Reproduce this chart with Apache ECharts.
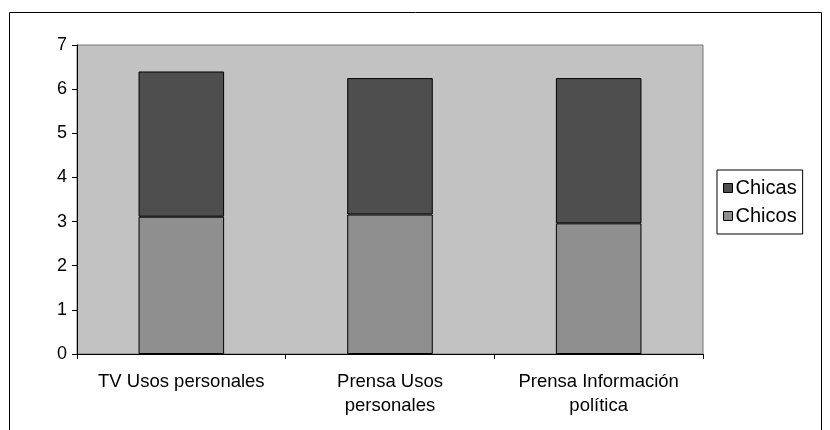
<!DOCTYPE html>
<html>
<head>
<meta charset="utf-8">
<script src="https://cdn.jsdelivr.net/npm/echarts@6/dist/echarts.min.js"></script>
<style>
  html, body { margin: 0; padding: 0; background: #fff; }
  #chart { width: 830px; height: 430px; }
</style>
</head>
<body>
<div id="chart"></div>
<script>
var categories = ['TV Usos personales', 'Prensa Usos\npersonales', 'Prensa Información\npolítica']
var chicos = [3.11, 3.16, 2.96]
var chicas = [3.29, 3.09, 3.29]
var yTicks = [0, 1, 2, 3, 4, 5, 6, 7]

var chart = echarts.init(document.getElementById('chart'))
var font = 'Liberation Sans, Arial, sans-serif'

var option = {
  animation: false,
  backgroundColor: '#fff',
  graphic: [{
    type: 'rect',
    shape: { x: 9.5, y: 12.5, width: 812, height: 430 },
    style: { fill: 'none', stroke: '#000', lineWidth: 1 },
    silent: true
  }],
  grid: {
    left: 77,
    right: 127,
    top: 45,
    bottom: 76,
    show: true,
    backgroundColor: '#c2c2c2',
    borderColor: '#777',
    borderWidth: 1
  },
  legend: {
    orient: 'vertical',
    left: 717,
    top: 170,
    data: ['Chicas', 'Chicos'],
    icon: 'rect',
    itemWidth: 9,
    itemHeight: 9,
    itemGap: 8,
    padding: [8, 6, 8, 6],
    borderColor: '#000',
    borderWidth: 1,
    borderRadius: 0,
    backgroundColor: '#fff',
    itemStyle: { borderColor: '#000', borderWidth: 1 },
    textStyle: { fontFamily: font, fontSize: 20, color: '#000', padding: [0, 0, 0, -2] }
  },
  xAxis: {
    type: 'category',
    data: categories,
    axisLine: { lineStyle: { color: '#000' } },
    axisTick: { show: true, length: 5, lineStyle: { color: '#000' } },
    axisLabel: { fontFamily: font, fontSize: 18.5, color: '#000', margin: 16, lineHeight: 24, interval: 0 }
  },
  yAxis: {
    type: 'value',
    min: 0,
    max: yTicks[yTicks.length - 1],
    interval: 1,
    axisLine: { show: true, lineStyle: { color: '#000' } },
    axisTick: { show: true, length: 5, lineStyle: { color: '#000' } },
    axisLabel: { fontFamily: font, fontSize: 18, color: '#000', margin: 10 },
    splitLine: { show: false }
  },
  series: [{
    name: 'Chicos',
    type: 'bar',
    stack: 'total',
    data: chicos,
    barWidth: '41%',
    itemStyle: { color: '#8f8f8f', borderColor: '#000', borderWidth: 1 }
  }, {
    name: 'Chicas',
    type: 'bar',
    stack: 'total',
    data: chicas,
    itemStyle: { color: '#4e4e4e', borderColor: '#000', borderWidth: 1 }
  }]
}
chart.setOption(option)
</script>
</body>
</html>
